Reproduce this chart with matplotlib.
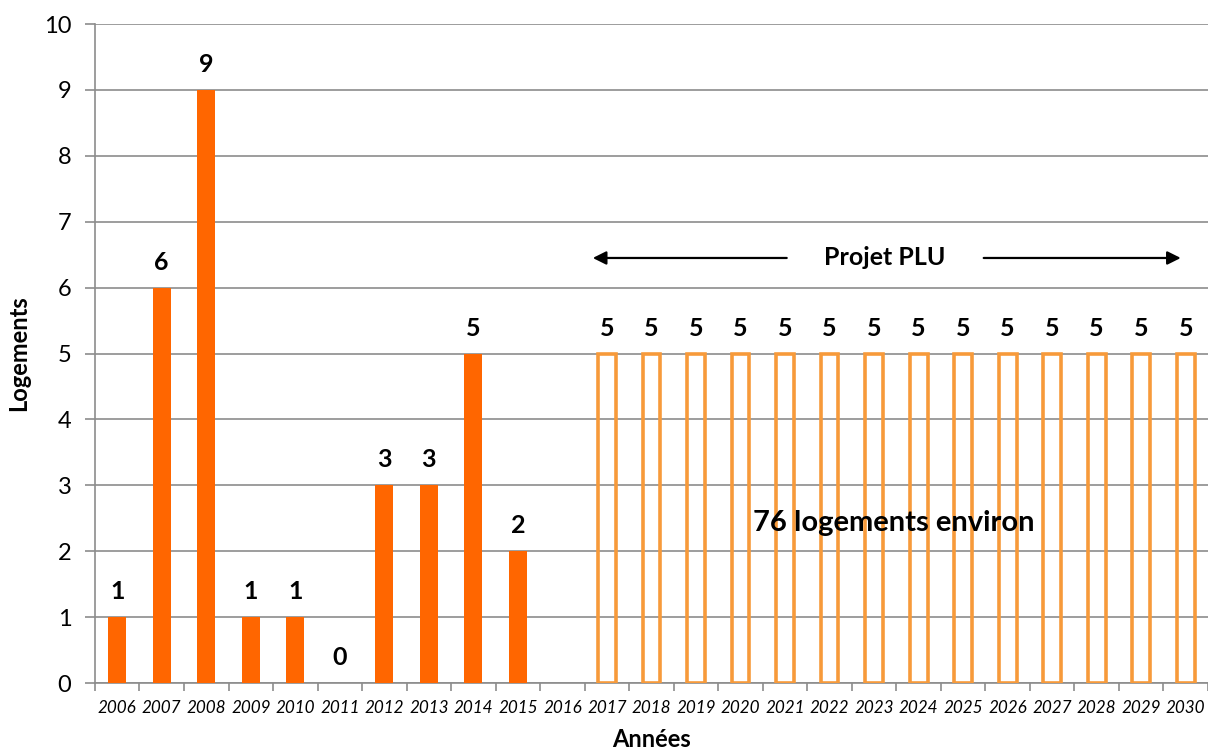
import numpy as np
import matplotlib.pyplot as plt

plt.rcParams['font.family'] = ['Lato', 'DejaVu Sans']

years = [str(y) for y in range(2006, 2031)]
built = [1, 6, 9, 1, 1, 0, 3, 3, 5, 2]          # 2006-2015, réalisés
projected = [5] * 14                             # 2017-2030, projet PLU

orange = "#FF6600"
light_orange = "#F79A3A"
grid_col = "#8C8C8C"

fig = plt.figure(figsize=(12.08, 7.51), dpi=100)
ax = fig.add_axes([0.0786, 0.0905, 0.9214, 0.8775])

x = np.arange(len(years))
x_built = x[:len(built)]
x_proj = x[len(years) - len(projected):]

ax.bar(x_built, built, width=0.4, color=orange, zorder=3)
ax.bar(x_proj, projected, width=0.4, facecolor="none", edgecolor=light_orange,
       linewidth=2.6, zorder=3)

for xi, v in list(zip(x_built, built)) + list(zip(x_proj, projected)):
    ax.annotate(str(v), (xi, v), xytext=(0, 10), textcoords="offset points",
                ha="center", va="bottom", fontsize=18, fontweight="bold")

# Projet PLU arrows
ax.annotate("", xy=(10.62, 6.45), xytext=(15.1, 6.45),
            arrowprops=dict(arrowstyle="-|>", color="black", lw=1.6, mutation_scale=20))
ax.annotate("", xy=(23.95, 6.45), xytext=(19.4, 6.45),
            arrowprops=dict(arrowstyle="-|>", color="black", lw=1.6, mutation_scale=20))
ax.text(17.23, 6.45, "Projet PLU", ha="center", va="center", fontsize=18, fontweight="bold")
ax.text(17.45, 2.43, "76 logements environ", ha="center", va="center",
        fontsize=21, fontweight="bold", zorder=5)

ax.set_xlim(-0.5, len(years) - 0.5)
ax.set_ylim(0, 10)
ax.set_yticks(range(0, 11))
ax.yaxis.grid(True, color=grid_col, linewidth=1.2, zorder=0)

ax.set_xticks(x)
ax.set_xticklabels(years, fontsize=12.3, style="italic")
ax.set_xticks(np.arange(-0.5, len(years)), minor=True)
ax.tick_params(axis="x", which="major", length=0, pad=12)
ax.tick_params(axis="x", which="minor", length=6, color=grid_col, width=1.2)
ax.tick_params(axis="y", length=7, color=grid_col, width=1.2, labelsize=17, pad=10)

for side in ["top", "right"]:
    ax.spines[side].set_visible(False)
for side in ["left", "bottom"]:
    ax.spines[side].set_color(grid_col)
    ax.spines[side].set_linewidth(1.2)

ax.set_xlabel("Années", fontsize=17, fontweight="bold", labelpad=9)
ax.set_ylabel("Logements", fontsize=17, fontweight="bold", labelpad=10)

fig.savefig("out.png", dpi=100)
